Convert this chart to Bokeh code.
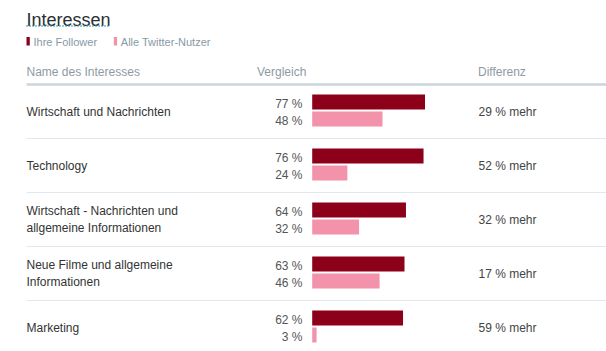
from bokeh.plotting import figure
from bokeh.models import Range1d, ColumnDataSource
from bokeh.core.properties import value
from bokeh.embed import file_html
from bokeh.resources import INLINE

# ---- data ----
title_text = "Interessen"
legend_labels = ["Ihre Follower", "Alle Twitter-Nutzer"]
header_labels = ["Name des Interesses", "Vergleich", "Differenz"]
categories = [
    ["Wirtschaft und Nachrichten"],
    ["Technology"],
    ["Wirtschaft - Nachrichten und", "allgemeine Informationen"],
    ["Neue Filme und allgemeine", "Informationen"],
    ["Marketing"],
]
followers = [77, 76, 64, 63, 62]
all_users = [48, 24, 32, 46, 3]
differences = [29, 52, 32, 17, 59]

# ---- styles / layout ----
FONT = value("Liberation Sans")
DARK = "#8c0019"
PINK = "#f293ab"
W, H = 606, 351
LEFT = 26
ROW0 = 111
PITCH = 54
BAR_X0 = 311.7
PX_PER_PCT = 1.465

p = figure(width=W, height=H, output_backend="svg", toolbar_location=None,
           x_range=Range1d(0, W), y_range=Range1d(H, 0), min_border=0)
p.extra_x_ranges = {"pct": Range1d(-BAR_X0 / PX_PER_PCT, (W - BAR_X0) / PX_PER_PCT)}
p.axis.visible = False
p.grid.visible = False
p.outline_line_color = None
p.background_fill_color = "white"
p.border_fill_color = "white"

n = len(categories)
centers = [ROW0 + PITCH * i for i in range(n)]

# title
p.text(x=[LEFT], y=[19.5], text=[title_text], text_font=FONT, text_font_size="18px",
       text_color="#292f33", text_baseline="alphabetic")
p.segment(x0=[LEFT], y0=[25.5], x1=[108], y1=[25.5], line_color="#2f9bb3",
          line_width=2, line_dash="1 2", line_cap="butt")

# legend
leg_x = [26, 113.3]
p.quad(left=leg_x, right=[x + 3.3 for x in leg_x], top=[36.5, 36.5], bottom=[45, 45],
       fill_color=[DARK, PINK], line_color=None)
p.text(x=[x + 7 for x in leg_x], y=[41.3, 41.3], text=legend_labels, text_font=FONT,
       text_font_size="11px", text_color="#8899a6", text_baseline="middle")

# header
p.text(x=[LEFT, 256.5, 477.5], y=[71, 71, 71], text=header_labels, text_font=FONT,
       text_font_size="12px", text_color="#8e9aa3", text_baseline="middle")
p.segment(x0=[LEFT], y0=[84], x1=[W], y1=[84], line_color="#ccd6dd", line_width=2.5)

# row separators
seps = [c + PITCH / 2 for c in centers[:-1]]
p.segment(x0=[LEFT] * len(seps), y0=seps, x1=[W] * len(seps), y1=seps,
          line_color="#e1e8ed", line_width=1.2)

# names
name_x, name_y, name_t = [], [], []
for c, lines in zip(centers, categories):
    k = len(lines)
    for j, t in enumerate(lines):
        name_x.append(LEFT)
        name_y.append(c + (j - (k - 1) / 2) * 17.5)
        name_t.append(t)
p.text(x=name_x, y=name_y, text=name_t, text_font=FONT, text_font_size="12px",
       text_color="#333333", text_baseline="middle")

# bars
src = ColumnDataSource(dict(
    f=followers, a=all_users,
    ft=[c - 17 for c in centers], fb=[c - 2 for c in centers],
    at=[c for c in centers], ab=[c + 15 for c in centers],
    zero=[0] * n,
))
p.quad(left="zero", right="f", top="ft", bottom="fb", source=src,
       fill_color=DARK, line_color=None, x_range_name="pct")
p.quad(left="zero", right="a", top="at", bottom="ab", source=src,
       fill_color=PINK, line_color=None, x_range_name="pct")

# value labels
p.text(x=[302] * n, y=[c - 8 for c in centers], text=[f"{v} %" for v in followers],
       text_font=FONT, text_font_size="12px", text_color="#555555",
       text_align="right", text_baseline="middle")
p.text(x=[302] * n, y=[c + 9.5 for c in centers], text=[f"{v} %" for v in all_users],
       text_font=FONT, text_font_size="12px", text_color="#555555",
       text_align="right", text_baseline="middle")

# difference
p.text(x=[478] * n, y=[c + 0.5 for c in centers], text=[f"{d} % mehr" for d in differences],
       text_font=FONT, text_font_size="12px", text_color="#444444",
       text_baseline="middle")

open("out.html", "w").write(file_html(p, INLINE))
